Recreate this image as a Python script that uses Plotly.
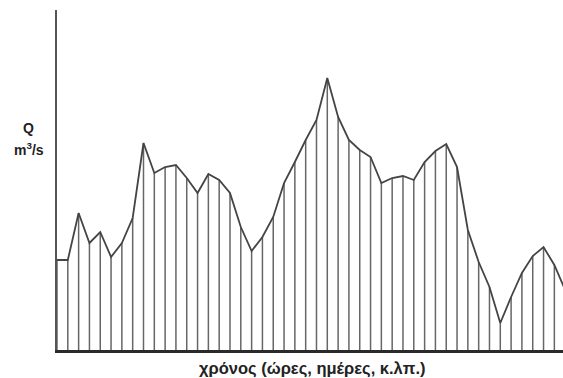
import plotly.graph_objects as go

# Time step index (hours, days, ...) and discharge Q (arbitrary units)
time_steps = list(range(48))
discharge = [90, 90, 137, 107, 118, 93, 107, 132, 207, 177,
             183, 185, 172, 157, 176, 170, 157, 123, 99, 113,
             133, 167, 188, 210, 230, 272, 233, 210, 200, 193,
             167, 172, 174, 170, 188, 199, 206, 183, 120, 88,
             63, 27, 53, 77, 94, 103, 85, 60]

x_label = "χρόνος (ώρες, ημέρες, κ.λπ.)"
y_label_top = "Q"
y_label_unit = "m<sup>3</sup>/s"

# vertical ordinates from the base to each value
vx, vy = [], []
for t, q in zip(time_steps, discharge):
    vx += [t, t, None]
    vy += [0, q, None]

fig = go.Figure()
fig.add_trace(go.Scatter(x=vx, y=vy, mode="lines",
                         line=dict(color="#666666", width=1.5),
                         hoverinfo="skip", showlegend=False))
fig.add_trace(go.Scatter(x=time_steps, y=discharge, mode="lines",
                         line=dict(color="#444444", width=1.8),
                         showlegend=False))

fig.update_layout(
    width=563, height=378,
    margin=dict(l=57, r=0, t=10, b=28),
    paper_bgcolor="white", plot_bgcolor="white",
    xaxis=dict(range=[0, 46.8], showgrid=False, zeroline=False,
               showticklabels=False, ticks="", showline=True,
               linecolor="#2a2a2a", linewidth=2.5),
    yaxis=dict(range=[0, 340], showgrid=False, zeroline=False,
               showticklabels=False, ticks="", showline=True,
               linecolor="#555555", linewidth=1.8),
    font=dict(family="Liberation Sans, Arial, sans-serif", color="#222222"),
    annotations=[
        dict(text="<b>" + x_label + "</b>", xref="paper", yref="paper",
             x=0.504, y=-0.053, xanchor="center", yanchor="middle",
             showarrow=False, font=dict(size=16.5)),
        dict(text="<b>" + y_label_top + "</b>", xref="paper", yref="paper",
             x=-0.057, y=0.652, xanchor="center", yanchor="middle",
             showarrow=False, font=dict(size=14)),
        dict(text="<b>" + y_label_unit + "</b>", xref="paper", yref="paper",
             x=-0.055, y=0.59, xanchor="center", yanchor="middle",
             showarrow=False, font=dict(size=14)),
    ],
)

fig.write_html("out.html")
